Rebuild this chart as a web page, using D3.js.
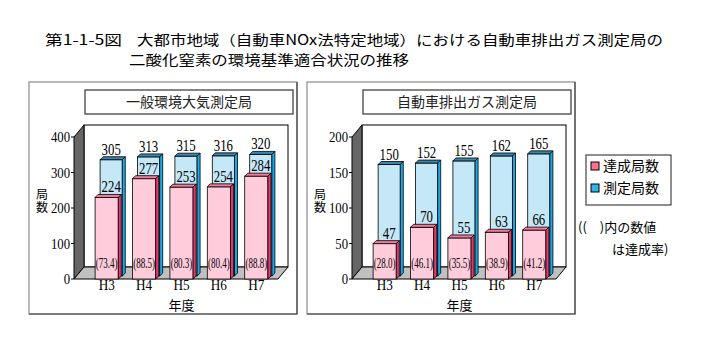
<!DOCTYPE html>
<html><head><meta charset="utf-8">
<script src="https://cdn.jsdelivr.net/npm/d3@7/dist/d3.min.js"></script>
<style>html,body{margin:0;padding:0;background:#fff;}svg{display:block;}</style>
</head><body>
<svg id="chart" width="704" height="346"></svg>
<script>
const categories = ["H3","H4","H5","H6","H7"];
const generalMeasured = [305,313,315,316,320];
const generalAchieved = [224,277,253,254,284];
const generalRate = [73.4,88.5,80.3,80.4,88.8];
const generalTicks = [0,100,200,300,400];
const vehicleMeasured = [150,152,155,162,165];
const vehicleAchieved = [47,70,55,63,66];
const vehicleRate = [28.0,46.1,35.5,38.9,41.2];
const vehicleTicks = [0,50,100,150,200];
const titleLine1a = "第1-1-5図";
const titleLine1b = "大都市地域（自動車NOx法特定地域）における自動車排出ガス測定局の";
const titleLine2 = "二酸化窒素の環境基準適合状況の推移";
const legendLabels = ["達成局数","測定局数"];

const svg = d3.select("#chart");
const CJK = "'Noto Sans CJK JP','Noto Sans',sans-serif";
const SERIF = "'Liberation Serif','DejaVu Serif',serif";

// main title
svg.append("text").attr("x",45).attr("y",45).attr("font-family",CJK).attr("font-size",14)
  .attr("textLength",77).attr("lengthAdjust","spacingAndGlyphs").text(titleLine1a);
svg.append("text").attr("x",137).attr("y",45).attr("font-family",CJK).attr("font-size",14)
  .attr("textLength",526).attr("lengthAdjust","spacingAndGlyphs").text(titleLine1b);
svg.append("text").attr("x",129).attr("y",65).attr("font-family",CJK).attr("font-size",14)
  .attr("textLength",280).attr("lengthAdjust","spacingAndGlyphs").text(titleLine2);

const floorY = 279, topY = 137, DX = 10, DY = -12, W = 204, D = 3;
const pinkC = {front:"#ffccdc", side:"#e8386a", top:"#f27a9a"};
const blueC = {front:"#c4e8f8", side:"#1aa8e8", top:"#3a86ae"};

function cuboid(g, x0, y0, w, y1, c){
  g.append("rect").attr("x",x0).attr("y",y0).attr("width",w).attr("height",y1-y0)
    .attr("fill",c.front).attr("stroke","#000").attr("stroke-width",0.8);
  g.append("polygon").attr("points",[[x0,y0],[x0+D,y0-D],[x0+w+D,y0-D],[x0+w,y0]].join(" "))
    .attr("fill",c.top).attr("stroke","#000").attr("stroke-width",0.8);
  g.append("polygon").attr("points",[[x0+w,y0],[x0+w+D,y0-D],[x0+w+D,y1-D],[x0+w,y1]].join(" "))
    .attr("fill",c.side).attr("stroke","#000").attr("stroke-width",0.8);
}
function num(g, cx, by, txt, size, sx){
  g.append("text").attr("transform",`translate(${cx},${by}) scale(${sx},1)`)
    .attr("text-anchor","middle").attr("font-family",SERIF).attr("font-size",size).attr("fill","#000").text(txt);
}

function panel(cfg){
  const g = svg.append("g");
  const ox = cfg.ox;
  // frame
  g.append("rect").attr("x",cfg.fx).attr("y",82).attr("width",268).attr("height",232)
    .attr("fill","#fff").attr("stroke","#8a8a8a").attr("stroke-width",1.2);
  g.append("polyline").attr("points",[[cfg.fx+268,82],[cfg.fx+268,314],[cfg.fx,314]].join(" "))
    .attr("fill","none").attr("stroke","#444").attr("stroke-width",1.2);
  // title box
  g.append("rect").attr("x",ox+11).attr("y",90).attr("width",W+4).attr("height",24)
    .attr("fill","#fff").attr("stroke","#444").attr("stroke-width",1.3);
  g.append("text").attr("x",ox+11+(W+4)/2).attr("y",107).attr("text-anchor","middle")
    .attr("font-family",CJK).attr("font-size",14).attr("fill","#222").text(cfg.title);

  const y = d3.scaleLinear().domain([0,cfg.max]).range([floorY,topY]);
  const x = d3.scaleBand().domain(categories).range([ox+14, ox+14+187]).paddingInner(0.38).paddingOuter(0.19);

  // back wall
  g.append("rect").attr("x",ox+DX).attr("y",topY+DY).attr("width",W).attr("height",floorY-topY)
    .attr("fill","#fff").attr("stroke","#000").attr("stroke-width",1);
  // side wall
  g.append("polygon").attr("points",[[ox,floorY],[ox,topY],[ox+DX,topY+DY],[ox+DX,floorY+DY]].join(" "))
    .attr("fill","#666").attr("stroke","#000").attr("stroke-width",1);
  // floor
  g.append("polygon").attr("points",[[ox,floorY],[ox+W,floorY],[ox+W+DX,floorY+DY],[ox+DX,floorY+DY]].join(" "))
    .attr("fill","#c0c0c0").attr("stroke","#000").attr("stroke-width",1);

  // y axis ticks
  cfg.ticks.forEach(t=>{
    g.append("line").attr("x1",ox-3).attr("x2",ox).attr("y1",y(t)).attr("y2",y(t)).attr("stroke","#000");
    g.append("text").attr("transform",`translate(${ox-4},${y(t)+5}) scale(0.85,1)`).attr("text-anchor","end")
      .attr("font-family",SERIF).attr("font-size",15).text(t);
  });
  // y title (vertical)
  g.append("text").attr("x",ox-32).attr("y",188).attr("font-family",CJK).attr("font-size",12)
    .attr("writing-mode","vertical-rl").attr("style","writing-mode:vertical-rl;letter-spacing:1px").text("局数");

  const bw = x.bandwidth();
  // back series (measured)
  categories.forEach((c,i)=>{
    cuboid(g, x(c)+5, y(cfg.measured[i])+cfg.lift, bw-1, floorY-3, blueC);
  });
  // front series (achieved)
  categories.forEach((c,i)=>{
    cuboid(g, x(c), y(cfg.achieved[i])-2, bw, floorY, pinkC);
  });
  // labels
  categories.forEach((c,i)=>{
    const bc = x(c)+5+(bw-1)/2;
    num(g, bc, y(cfg.measured[i])+cfg.lift-5, cfg.measured[i], 16, 0.8);
    num(g, bc, y(cfg.achieved[i])-2-5, cfg.achieved[i], 16, 0.8);
    num(g, x(c)+bw/2, 268, "("+cfg.rate[i].toFixed(1)+")", 15, 0.6);
    num(g, x(c)+bw/2, 290, c, 15, 0.88);
  });
  g.append("text").attr("x",ox+14+187/2).attr("y",310).attr("text-anchor","middle")
    .attr("font-family",CJK).attr("font-size",13).text("年度");
}

panel({ox:74, fx:29, title:"一般環境大気測定局", max:400, ticks:generalTicks,
  measured:generalMeasured, achieved:generalAchieved, rate:generalRate, lift:-11});
panel({ox:352, fx:307, title:"自動車排出ガス測定局", max:200, ticks:vehicleTicks,
  measured:vehicleMeasured, achieved:vehicleAchieved, rate:vehicleRate, lift:-8});

// legend
const lg = svg.append("g");
lg.append("rect").attr("x",586).attr("y",155).attr("width",85).attr("height",50)
  .attr("fill","#fff").attr("stroke","#444").attr("stroke-width",1.2);
const swC = ["#ff7090","#30b4ec"];
legendLabels.forEach((l,i)=>{
  lg.append("rect").attr("x",591).attr("y",162+i*22).attr("width",8).attr("height",8)
    .attr("fill",swC[i]).attr("stroke","#000").attr("stroke-width",1);
  lg.append("text").attr("x",603).attr("y",171+i*22).attr("font-family",CJK).attr("font-size",14).text(l);
});
svg.append("text").attr("x",578).attr("y",232).attr("font-family",CJK).attr("font-size",13).text("((　)内の数値");
svg.append("text").attr("x",612).attr("y",254).attr("font-family",CJK).attr("font-size",13).text("は達成率)");
</script>
</body></html>
